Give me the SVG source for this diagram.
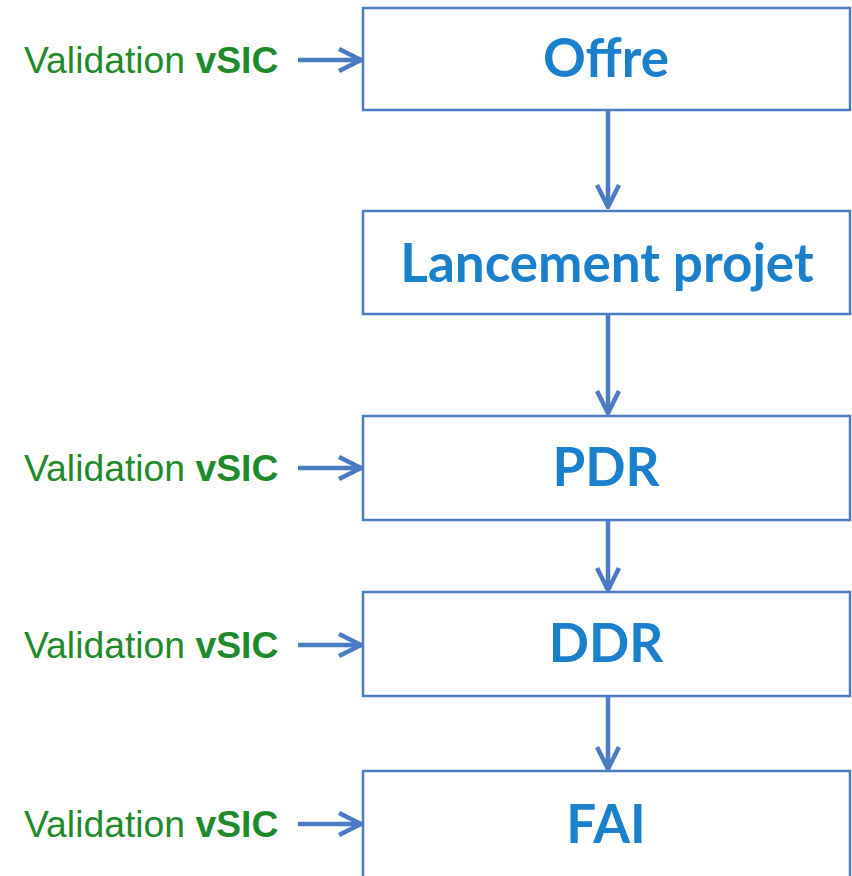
<svg xmlns="http://www.w3.org/2000/svg" width="852" height="876" viewBox="0 0 852 876">
<style>
.box{fill:#fff;stroke:#4a7cc4;stroke-width:2.5}
.nt{font-family:Lato,"Open Sans",sans-serif;font-weight:bold;font-size:53px;fill:#1b80cc;text-anchor:middle}
.vt{font-family:"Liberation Sans",Arial,sans-serif;font-size:37.3px;fill:#1f8a2c}
.vt tspan{font-weight:bold}
.c{fill:none;stroke:#4a7cc4;stroke-width:4.5}
</style>
<defs>
<marker id="ah" markerUnits="userSpaceOnUse" viewBox="-24 -13 26 26" markerWidth="26" markerHeight="26" refX="0" refY="0" orient="auto">
<path d="M-22,-11 L0,0 L-22,11" fill="none" stroke="#4a7cc4" stroke-width="4.5" stroke-linejoin="miter"/>
</marker>
</defs>
<rect width="852" height="876" fill="#fff"/>
<g id="connectors">
<line class="c" x1="298" y1="60" x2="361" y2="60" marker-end="url(#ah)"/>
<line class="c" x1="298" y1="468" x2="361" y2="468" marker-end="url(#ah)"/>
<line class="c" x1="298" y1="645" x2="361" y2="645" marker-end="url(#ah)"/>
<line class="c" x1="298" y1="824" x2="361" y2="824" marker-end="url(#ah)"/>
<line class="c" x1="608" y1="110" x2="608" y2="207" marker-end="url(#ah)"/>
<line class="c" x1="608" y1="314" x2="608" y2="413" marker-end="url(#ah)"/>
<line class="c" x1="608" y1="520" x2="608" y2="590" marker-end="url(#ah)"/>
<line class="c" x1="608" y1="696" x2="608" y2="769" marker-end="url(#ah)"/>
</g>
<g id="label-offre"><text class="vt" x="24" y="73">Validation <tspan>vSIC</tspan></text></g>
<g id="label-pdr"><text class="vt" x="24" y="481">Validation <tspan>vSIC</tspan></text></g>
<g id="label-ddr"><text class="vt" x="24" y="658">Validation <tspan>vSIC</tspan></text></g>
<g id="label-fai"><text class="vt" x="24" y="837">Validation <tspan>vSIC</tspan></text></g>
<g id="offre"><rect class="box" x="363" y="8" width="487" height="102"/><text class="nt" x="606" y="77">Offre</text></g>
<g id="lancement"><rect class="box" x="363" y="211" width="487" height="103"/><text class="nt" x="607" y="282">Lancement projet</text></g>
<g id="pdr"><rect class="box" x="363" y="416" width="487" height="104"/><text class="nt" x="606" y="486">PDR</text></g>
<g id="ddr"><rect class="box" x="363" y="592" width="487" height="104"/><text class="nt" x="606" y="662">DDR</text></g>
<g id="fai"><rect class="box" x="363" y="771" width="487" height="110"/><text class="nt" x="606" y="843">FAI</text></g>
</svg>
